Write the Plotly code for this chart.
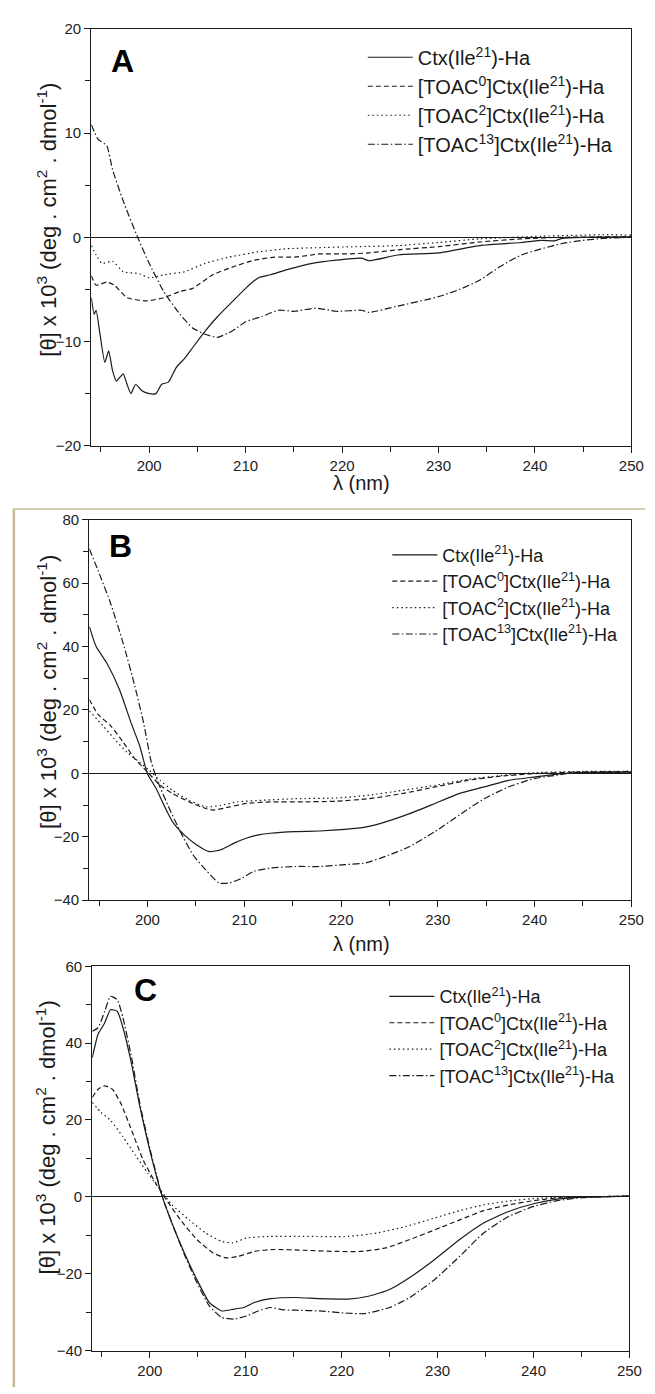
import plotly.graph_objects as go

# ---------------- Data ----------------
names = ["Ctx(Ile<sup>21</sup>)-Ha",
         "[TOAC<sup>0</sup>]Ctx(Ile<sup>21</sup>)-Ha",
         "[TOAC<sup>2</sup>]Ctx(Ile<sup>21</sup>)-Ha",
         "[TOAC<sup>13</sup>]Ctx(Ile<sup>21</sup>)-Ha"]

# Panel A
a_ctx_x = [194.0, 194.3, 194.5, 194.9, 195.4, 195.8, 196.2, 196.6, 197.3, 197.7, 198.1, 198.6, 199.2, 200.0,
           200.7, 201.3, 202.0, 202.8, 203.7, 204.5, 205.8, 207.1, 208.6, 210.0, 211.3, 212.6, 214.3, 216.9,
           219.4, 222.0, 222.8, 225.8, 230.0, 234.3, 238.6, 240.7, 242.0, 242.8, 244.9, 250.0]
a_ctx_y = [-5.8, -7.4, -7.0, -9.3, -12.0, -10.9, -12.8, -13.8, -13.1, -14.1, -15.0, -14.1, -14.7, -15.0,
           -15.0, -14.1, -13.9, -12.5, -11.6, -10.6, -9.0, -7.6, -6.2, -4.9, -3.9, -3.6, -3.1, -2.5,
           -2.2, -2.0, -2.25, -1.7, -1.5, -0.8, -0.5, -0.3, -0.35, -0.1, 0.0, 0.03]
a_t0_x = [194.0, 194.5, 195.6, 196.4, 197.7, 199.8, 201.5, 203.2, 204.5, 206.6, 208.8, 210.9, 213.0, 215.1,
          217.7, 220.3, 222.8, 225.8, 230.0, 234.3, 238.6, 242.8, 250.0]
a_t0_y = [-3.7, -4.6, -4.3, -4.6, -5.8, -6.1, -5.8, -5.2, -4.9, -3.6, -2.8, -2.2, -1.9, -1.9,
          -1.6, -1.6, -1.5, -1.2, -0.9, -0.45, -0.15, 0.0, 0.05]
a_t2_x = [194.0, 194.5, 195.1, 196.2, 197.3, 199.0, 200.0, 201.5, 203.7, 205.8, 208.3, 211.3, 214.3, 217.3,
          221.5, 225.8, 230.0, 234.3, 240.7, 247.1, 250.0]
a_t2_y = [-0.8, -1.7, -2.5, -2.3, -3.3, -3.5, -3.9, -3.6, -3.3, -2.5, -1.9, -1.4, -1.1, -1.0,
          -0.9, -0.8, -0.5, -0.15, 0.1, 0.25, 0.2]
a_t13_x = [194.0, 194.7, 195.6, 196.2, 197.3, 198.8, 200.0, 201.5, 203.2, 204.5, 205.8, 207.1, 208.6, 210.0,
           211.7, 213.4, 215.1, 217.3, 219.4, 222.0, 222.8, 225.8, 230.0, 232.2, 234.3, 236.4, 238.6, 240.7,
           242.8, 244.9, 247.1, 250.0]
a_t13_y = [10.8, 9.4, 8.8, 6.5, 3.5, 0.0, -2.5, -5.2, -7.4, -8.7, -9.3, -9.6, -9.0, -8.1,
           -7.6, -7.0, -7.1, -6.8, -7.1, -7.0, -7.2, -6.6, -5.7, -5.0, -4.1, -2.8, -1.7, -1.1,
           -0.6, -0.3, -0.1, 0.0]

# Panel B
b_ctx_x = [194.0, 194.7, 195.8, 197.1, 198.3, 199.2, 200.0, 200.9, 201.7, 202.6, 203.8, 205.1, 206.4, 207.6,
           208.9, 210.2, 211.5, 212.7, 215.3, 217.8, 220.4, 222.5, 224.6, 227.1, 229.7, 232.2, 234.8, 237.3,
           239.9, 242.8, 245.0, 250.0]
b_ctx_y = [46.3, 40.0, 34.8, 26.5, 16.0, 8.7, -0.1, -4.8, -10.0, -15.3, -19.4, -22.6, -24.7, -24.1,
           -22.1, -20.5, -19.4, -18.9, -18.4, -18.2, -17.7, -17.0, -15.3, -12.7, -9.5, -6.4, -4.3, -2.2,
           -1.2, -0.1, 0.2, 0.4]
b_t0_x = [194.0, 194.9, 196.2, 197.5, 198.7, 200.0, 201.3, 202.6, 204.3, 206.0, 206.8, 208.5, 210.2, 212.7,
          216.1, 219.5, 222.9, 226.3, 229.7, 233.1, 236.5, 239.9, 244.1, 250.0]
b_t0_y = [23.3, 18.6, 15.0, 9.8, 4.6, 0.4, -3.7, -6.4, -9.0, -11.1, -11.6, -10.6, -9.5, -9.0,
          -9.0, -8.8, -8.0, -6.4, -4.3, -2.2, -0.9, -0.1, 0.4, 0.6]
b_t2_x = [194.0, 195.4, 196.6, 197.9, 199.2, 200.2, 201.3, 202.6, 204.3, 206.0, 207.6, 209.3, 211.9, 215.3,
          219.5, 222.9, 226.3, 229.7, 233.1, 236.5, 239.9, 245.0, 250.0]
b_t2_y = [19.7, 15.0, 10.8, 6.6, 3.5, 0.9, -2.2, -5.4, -8.5, -10.6, -10.1, -9.0, -8.5, -8.0,
          -7.8, -6.9, -5.4, -3.8, -1.9, -0.7, 0.2, 0.6, 0.6]
b_t13_x = [194.0, 194.9, 196.2, 197.5, 198.7, 199.6, 200.4, 201.1, 202.1, 203.4, 204.7, 206.0, 207.4, 208.5,
           209.8, 211.0, 212.7, 215.3, 217.8, 220.4, 222.5, 224.6, 227.1, 229.7, 232.2, 234.8, 237.3, 239.9,
           242.0, 244.1, 250.0]
b_t13_y = [70.8, 64.0, 53.6, 41.0, 27.5, 16.0, 3.5, -2.8, -10.0, -18.4, -25.7, -30.4, -34.6, -34.6,
           -33.0, -30.9, -29.9, -29.4, -29.4, -28.8, -28.3, -26.2, -23.1, -18.4, -13.2, -8.0, -4.3, -1.7,
           -0.7, 0.2, 0.4]

# Panel C
c_ctx_x = [194.0, 194.6, 195.3, 195.9, 196.6, 197.2, 198.1, 198.9, 200.0, 201.3, 202.3, 203.6, 204.9, 206.2,
           207.5, 208.8, 209.8, 210.9, 212.6, 215.2, 217.7, 220.7, 222.9, 225.0, 227.1, 229.7, 232.3, 234.8,
           237.4, 240.0, 242.5, 245.1, 250.0]
c_ctx_y = [36.2, 42.3, 45.3, 48.7, 48.3, 44.0, 34.5, 24.2, 12.1, 0.05, -6.8, -14.6, -21.5, -27.5,
           -29.7, -29.2, -28.8, -27.5, -26.5, -26.2, -26.5, -26.6, -25.8, -24.1, -21.0, -16.3, -11.1, -6.8,
           -3.8, -1.8, -0.6, -0.1, 0.2]
c_t0_x = [194.0, 194.6, 195.3, 196.1, 197.0, 198.1, 199.3, 200.6, 201.7, 203.2, 204.9, 206.6, 207.9, 209.2,
          210.9, 213.0, 216.0, 219.4, 222.0, 224.6, 227.1, 229.7, 232.3, 234.8, 237.4, 240.0, 242.5, 250.0]
c_t0_y = [25.9, 28.0, 28.9, 28.0, 24.2, 17.3, 9.6, 3.6, -0.7, -6.0, -11.1, -14.6, -15.9, -15.5,
          -14.2, -13.7, -13.9, -14.2, -14.2, -13.3, -11.1, -8.6, -6.0, -3.6, -2.1, -1.0, -0.3, 0.2]
c_t2_x = [194.0, 194.9, 195.9, 197.2, 198.5, 199.8, 201.1, 202.3, 204.1, 205.8, 207.5, 208.6, 210.1, 212.6,
          216.0, 220.7, 223.7, 226.7, 229.7, 232.3, 234.8, 237.4, 240.8, 250.0]
c_t2_y = [24.6, 22.0, 19.9, 15.6, 10.8, 6.1, 1.8, -2.1, -6.0, -9.4, -11.6, -12.0, -10.7, -10.3,
          -10.3, -10.3, -9.4, -7.7, -5.5, -3.6, -2.1, -1.1, -0.3, 0.2]
c_t13_x = [194.0, 194.6, 195.3, 195.9, 196.6, 197.2, 198.1, 198.9, 200.0, 201.3, 202.3, 203.6, 204.9, 206.2,
           207.5, 208.8, 210.1, 211.3, 212.6, 213.9, 215.2, 217.7, 220.7, 222.4, 225.0, 227.1, 229.7, 232.3,
           234.8, 237.4, 240.0, 242.5, 245.1, 250.0]
c_t13_y = [43.1, 44.0, 48.3, 52.2, 51.3, 46.6, 36.2, 25.0, 12.6, 0.05, -6.8, -15.0, -22.3, -28.4,
           -31.4, -31.8, -31.0, -29.7, -28.8, -29.4, -29.5, -29.7, -30.3, -30.4, -28.8, -26.2, -21.5, -15.5,
           -9.4, -5.1, -2.5, -1.0, -0.2, 0.2]

x_ticks = [200, 210, 220, 230, 240, 250]
a_yticks = [-20, -10, 0, 10, 20]
b_yticks = [-40, -20, 0, 20, 40, 60, 80]
c_yticks = [-40, -20, 0, 20, 40, 60]
panel_labels = ["A", "B", "C"]

# ---------------- Styling ----------------
FONT = "Liberation Sans, Arial, sans-serif"
INK = "#1a1a1a"
dashes = ["solid", "5px,3px", "1.5px,3px", "7px,2.5px,1.5px,2.5px"]

panels = [
    dict(series=[(a_ctx_x, a_ctx_y), (a_t0_x, a_t0_y), (a_t2_x, a_t2_y), (a_t13_x, a_t13_y)],
         xd=[85/655, 636/655], yd=[1-434/1394, 1-12/1394], yr=[-20, 20], yt=a_yticks, ymin=5,
         leg=dict(x=362/655, y=1-21/1394), gap=0, lfs=20),
    dict(series=[(b_ctx_x, b_ctx_y), (b_t0_x, b_t0_y), (b_t2_x, b_t2_y), (b_t13_x, b_t13_y)],
         xd=[83/655, 636/655], yd=[1-894/1394, 1-509/1394], yr=[-40, 80], yt=b_yticks, ymin=10,
         leg=dict(x=387/655, y=1-526/1394), gap=0, lfs=18),
    dict(series=[(c_ctx_x, c_ctx_y), (c_t0_x, c_t0_y), (c_t2_x, c_t2_y), (c_t13_x, c_t13_y)],
         xd=[86/655, 634/655], yd=[1-1350/1394, 1-961/1394], yr=[-40, 60], yt=c_yticks, ymin=10,
         leg=dict(x=384/655, y=1-973/1394), gap=0, lfs=18),
]

fig = go.Figure()
layout = dict(width=655, height=1394, margin=dict(l=0, r=0, t=0, b=0),
              paper_bgcolor="white", plot_bgcolor="white",
              font=dict(family=FONT, color=INK), showlegend=True)

for i, p in enumerate(panels):
    sfx = "" if i == 0 else str(i + 1)
    legname = "legend" + sfx
    for j, (xs, ys) in enumerate(p["series"]):
        fig.add_trace(go.Scatter(
            x=xs, y=ys, mode="lines", name=names[j],
            line=dict(color=INK, width=1.2, dash=dashes[j], shape="spline", smoothing=0.5),
            xaxis="x" + sfx, yaxis="y" + sfx, legend=legname,
            legendgroup=f"p{i}s{j}"))
    layout["xaxis" + sfx] = dict(
        domain=p["xd"], anchor="y" + sfx, range=[194, 250], tickvals=x_ticks,
        showline=True, linecolor=INK, linewidth=1.3, mirror=True, showgrid=False, zeroline=False,
        ticks="outside", ticklen=6, tickcolor=INK, tickfont=dict(size=15, color="#222"),
        minor=dict(tickvals=[195, 205, 215, 225, 235, 245], ticks="outside", ticklen=5, tickcolor=INK))
    layout["yaxis" + sfx] = dict(
        domain=p["yd"], anchor="x" + sfx, range=p["yr"], tickvals=p["yt"],
        showline=True, linecolor=INK, linewidth=1.3, mirror=True, showgrid=False,
        zeroline=True, zerolinecolor=INK, zerolinewidth=1.2,
        ticks="outside", ticklen=6, tickcolor=INK, tickfont=dict(size=15, color="#222"),
        minor=dict(dtick=p["ymin"], ticks="outside", ticklen=5, tickcolor=INK))
    layout[legname] = dict(x=p["leg"]["x"], y=p["leg"]["y"], xanchor="left", yanchor="top",
                           bgcolor="rgba(0,0,0,0)", borderwidth=0, tracegroupgap=p["gap"],
                           itemwidth=45, font=dict(size=p["lfs"], family=FONT, color=INK))

fig.update_layout(**layout)

ytitle = "[θ] x 10<sup>3</sup> (deg . cm<sup>2</sup> . dmol<sup>-1</sup>)"
annots = []
ytitle_y = [205, 683, 1134]
xtitle_y = [472, 938]
letter_pos = [(117, 45), (115, 536), (140, 985)]
for i in range(3):
    annots.append(dict(x=39/655, y=1-ytitle_y[i]/1394, xref="paper", yref="paper", text=ytitle,
                       textangle=-90, showarrow=False, xanchor="center", yanchor="middle",
                       font=dict(size=22, family=FONT, color=INK)))
    lx, ly = letter_pos[i]
    annots.append(dict(x=lx/655, y=1-ly/1394, xref="paper", yref="paper", text="<b>%s</b>" % panel_labels[i],
                       showarrow=False, xanchor="center", yanchor="middle",
                       font=dict(size=32, family=FONT, color="black")))
for yy in xtitle_y:
    annots.append(dict(x=361/655, y=1-yy/1394, xref="paper", yref="paper", text="λ (nm)",
                       showarrow=False, xanchor="center", yanchor="middle",
                       font=dict(size=20, family=FONT, color=INK)))
fig.update_layout(annotations=annots)

# tan frame lines of the composite figure
fig.add_shape(type="line", xref="paper", yref="paper", x0=5/655, x1=650/655, y0=1-498/1394, y1=1-498/1394,
              line=dict(color="#cbbf9f", width=1.5))
fig.add_shape(type="line", xref="paper", yref="paper", x0=6/655, x1=6/655, y0=1-498/1394, y1=1-1387/1394,
              line=dict(color="#c5b895", width=2.5))

fig.write_html("out.html")
